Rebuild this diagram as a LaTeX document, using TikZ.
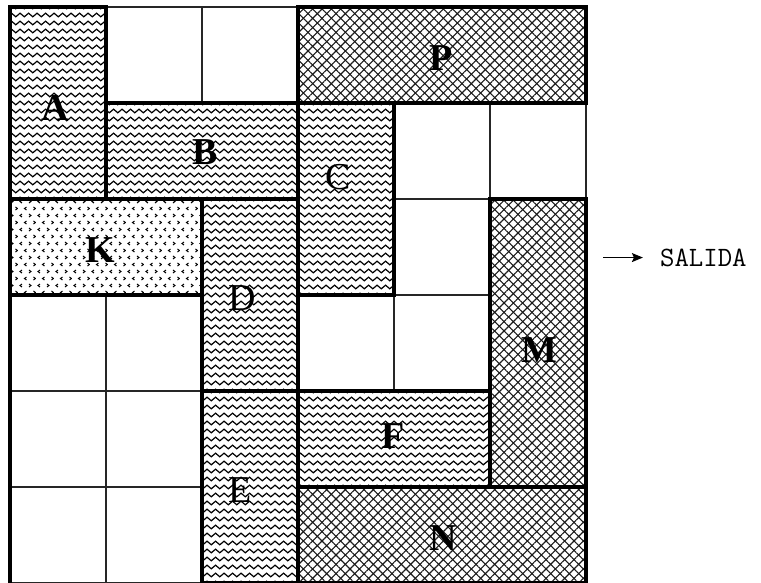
\documentclass[tikz,border=0pt]{standalone}
\usepackage{fontspec}
\setmainfont{Liberation Serif}
\usetikzlibrary{arrows.meta, positioning, patterns.meta, decorations.pathmorphing}

% little < > marks for block K
\pgfdeclarepatternformonly{chevrons}{\pgfqpoint{0pt}{0pt}}{\pgfqpoint{18pt}{14pt}}{\pgfqpoint{18pt}{14pt}}{
  \pgfsetlinewidth{1pt}
  \pgfpathmoveto{\pgfqpoint{4pt}{5pt}}\pgfpathlineto{\pgfqpoint{2pt}{3.5pt}}\pgfpathlineto{\pgfqpoint{4pt}{2pt}}
  \pgfpathmoveto{\pgfqpoint{11pt}{5pt}}\pgfpathlineto{\pgfqpoint{13pt}{3.5pt}}\pgfpathlineto{\pgfqpoint{11pt}{2pt}}
  \pgfpathmoveto{\pgfqpoint{8.5pt}{12pt}}\pgfpathlineto{\pgfqpoint{6.5pt}{10.5pt}}\pgfpathlineto{\pgfqpoint{8.5pt}{9pt}}
  \pgfpathmoveto{\pgfqpoint{15.5pt}{12pt}}\pgfpathlineto{\pgfqpoint{17.5pt}{10.5pt}}\pgfpathlineto{\pgfqpoint{15.5pt}{9pt}}
  \pgfusepath{stroke}
}

\begin{document}
\begin{tikzpicture}[x=96pt, y=-96pt,
  gridline/.style={line width=1.7pt, black!85},
  blockline/.style={line width=3.4pt, black},
  wave/.style={line width=1.2pt, black, decorate,
    decoration={snake, segment length=8.5pt, amplitude=1.8pt}},
  hatch/.style={pattern color=black!90,
    pattern={Lines[angle=45, distance=6.6pt, line width=1.1pt]},
    preaction={pattern color=black!90,
      pattern={Lines[angle=-45, distance=6.6pt, line width=1.1pt]}}},
  lbl/.style={font=\fontsize{38}{40}\selectfont\bfseries},
  lblr/.style={font=\fontsize{38}{40}\selectfont}]
  \useasboundingbox (-0.1042,-0.0729) rectangle (7.823,6);

  % Grid
  \foreach \i in {0,...,6}{
    \draw[gridline] (\i,0) -- (\i,6);
    \draw[gridline] (0,\i) -- (6,\i);
  }

  % Blocks: white ground
  \foreach \xa/\ya/\xb/\yb in {0/0/1/2, 1/1/3/2, 3/0/6/1, 3/1/4/3, 0/2/2/3, 2/2/3/4,
                               5/2/6/5, 2/4/3/6, 3/4/5/5, 3/5/6/6}{
    \fill[white] (\xa,\ya) rectangle (\xb,\yb);
  }

  % Wavy blocks A, B, C, D, E, F
  \begin{scope}
    \clip (0,0) rectangle (1,2) (1,1) rectangle (3,2) (3,1) rectangle (4,3)
          (2,2) rectangle (3,4) (2,4) rectangle (3,6) (3,4) rectangle (5,5);
    \foreach \k in {0,...,72}{
      \draw[wave] (-0.1,\k/12) -- (6.1,\k/12);
    }
  \end{scope}

  % Cross-hatched blocks P, M, N
  \path[hatch] (3,0) rectangle (6,1);
  \path[hatch] (5,2) rectangle (6,5);
  \path[hatch] (3,5) rectangle (6,6);

  % Block K
  \path[pattern=chevrons, pattern color=black] (0,2) rectangle (2,3);

  % Outlines
  \foreach \xa/\ya/\xb/\yb in {0/0/1/2, 1/1/3/2, 3/0/6/1, 3/1/4/3, 0/2/2/3, 2/2/3/4,
                               5/2/6/5, 2/4/3/6, 3/4/5/5, 3/5/6/6}{
    \draw[blockline] (\xa,\ya) rectangle (\xb,\yb);
  }
  \draw[blockline] (0,0) -- (0,6);

  % Labels
  \node[lbl]  (labA) at (0.47,1.05) {A};
  \node[lbl]  (labB) at (2.03,1.51) {B};
  \node[lbl]  (labP) at (4.49,0.53) {P};
  \node[lblr] (labC) at (3.42,1.77) {C};
  \node[lbl]  (labK) at (0.94,2.53) {K};
  \node[lblr] (labD) at (2.42,3.03) {D};
  \node[lbl]  (labM) at (5.52,3.57) {M};
  \node[lblr] (labE) at (2.40,5.03) {E};
  \node[lbl]  (labF) at (3.99,4.47) {F};
  \node[lbl]  (labN) at (4.51,5.53) {N};

  % Exit
  \coordinate (outstart) at (6.18,2.61);
  \node[font=\ttfamily\fontsize{28}{30}\selectfont, right, inner sep=0pt] (salida) at (6.77,2.61) {SALIDA};
  \draw[-{Stealth[length=11pt, width=9pt, inset=2pt]}, line width=1.4pt]
    (outstart) -- ([xshift=-17pt]salida.west);
\end{tikzpicture}
\end{document}
